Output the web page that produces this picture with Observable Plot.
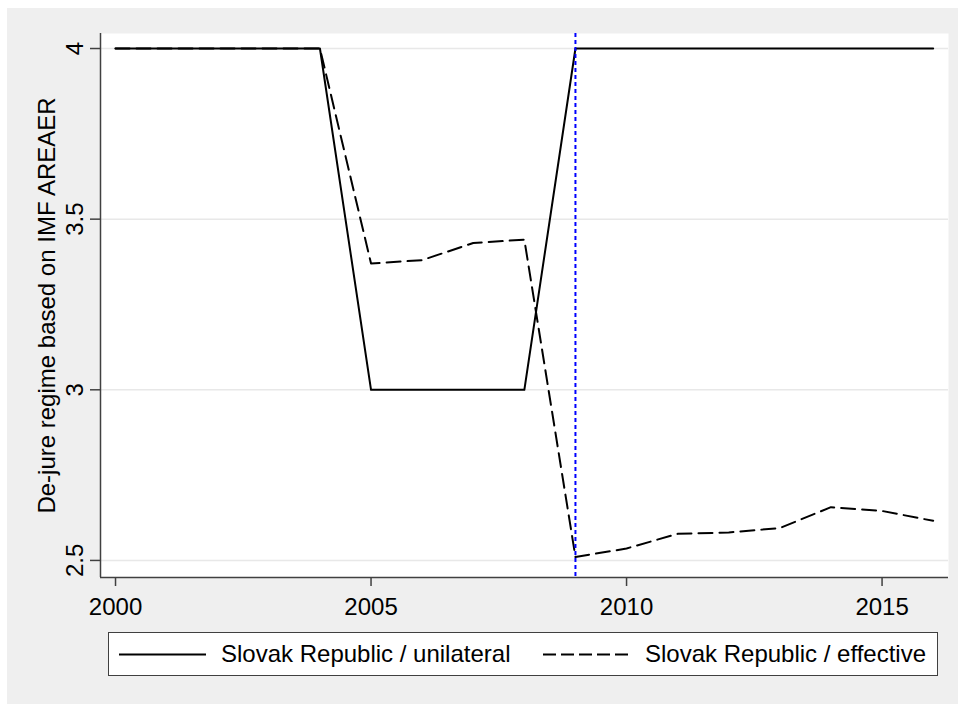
<!DOCTYPE html>
<html>
<head>
<meta charset="utf-8">
<script src="https://cdn.jsdelivr.net/npm/d3@7"></script>
<script src="https://cdn.jsdelivr.net/npm/@observablehq/plot@0.6"></script>
<style>
  html, body { margin: 0; padding: 0; background: #ffffff; }
  body { width: 958px; height: 704px; position: relative; overflow: hidden; font-family: "Liberation Sans", Arial, sans-serif; }
  #bg { position: absolute; left: 7px; top: 8px; width: 951px; height: 696px; background: #efefef; }
  #chart { position: absolute; left: 0; top: 0; }
  #legend { position: absolute; left: 108px; top: 632px; width: 828px; height: 42px; background: #ffffff; border: 1.5px solid #404040; }
  #legend svg { position: absolute; left: 0; top: 0; }
  #legend span { position: absolute; top: 8px; font-size: 24px; color: #000; white-space: nowrap; line-height: 26px; }
</style>
</head>
<body>
<div id="bg"></div>
<div id="chart"></div>
<div id="legend"></div>
<script>
// ---- data ----
const years = [2000, 2001, 2002, 2003, 2004, 2005, 2006, 2007, 2008, 2009, 2010, 2011, 2012, 2013, 2014, 2015, 2016];
const unilateral = [4, 4, 4, 4, 4, 3, 3, 3, 3, 4, 4, 4, 4, 4, 4, 4, 4];
const effective = [4, 4, 4, 4, 4, 3.37, 3.38, 3.43, 3.44, 2.51, 2.535, 2.578, 2.582, 2.595, 2.656, 2.645, 2.616];
const seriesNames = ["Slovak Republic / unilateral", "Slovak Republic / effective"];
const markerYear = [2009];
const xTicks = [2000, 2005, 2010, 2015];
const yTicks = [2.5, 3, 3.5, 4];
const yTitle = "De-jure regime based on IMF AREAER";

// ---- layout ----
const xDomain = [1999.706, 2016.30];
const yDomain = [2.450, 4.044];

const rows = [];
years.forEach((yr, i) => {
  rows.push({year: yr, value: unilateral[i], series: seriesNames[0]});
  rows.push({year: yr, value: effective[i], series: seriesNames[1]});
});

const FONT = "Liberation Sans, Arial, sans-serif";

const plot = Plot.plot({
  width: 958,
  height: 630,
  marginLeft: 100,
  marginRight: 10,
  marginTop: 33,
  marginBottom: 53,
  style: {background: "transparent", fontFamily: FONT, fontSize: "24px", color: "#000"},
  x: {domain: xDomain},
  y: {domain: yDomain},
  marks: [
    Plot.frame({fill: "white", stroke: "none"}),
    Plot.ruleY(yTicks, {stroke: "#e8e8e8", strokeWidth: 1.5}),
    Plot.ruleX([xDomain[0]], {stroke: "#404040", strokeWidth: 1.5}),
    Plot.ruleY([yDomain[0]], {stroke: "#404040", strokeWidth: 1.5}),
    Plot.axisY({
      ticks: yTicks, tickSize: 10, tickPadding: 8, tickRotate: -90,
      tickFormat: d => String(d), stroke: "#404040", strokeWidth: 1.5,
      label: yTitle, labelAnchor: "center", labelOffset: 63, labelArrow: "none",
      fontSize: 24
    }),
    Plot.axisX({
      ticks: xTicks, tickSize: 9, tickPadding: 11, tickFormat: d => String(d),
      stroke: "#404040", strokeWidth: 1.5, label: null, fontSize: 24
    }),
    Plot.line(rows.filter(d => d.series === seriesNames[0]), {x: "year", y: "value", stroke: "#000", strokeWidth: 2}),
    Plot.line(rows.filter(d => d.series === seriesNames[1]), {x: "year", y: "value", stroke: "#000", strokeWidth: 2, strokeDasharray: "14,7"}),
    Plot.ruleX(markerYear, {stroke: "#0000ff", strokeWidth: 2, strokeDasharray: "4,3"})
  ]
});
document.getElementById("chart").appendChild(plot);

// ---- legend ----
const legend = document.getElementById("legend");
legend.innerHTML = `
<svg width="828" height="42">
  <line x1="10" x2="97" y1="21.5" y2="21.5" stroke="#000" stroke-width="2"/>
  <line x1="434" x2="521" y1="21.5" y2="21.5" stroke="#000" stroke-width="2" stroke-dasharray="13,5"/>
</svg>
<span style="left:112px">${seriesNames[0]}</span>
<span style="left:536px">${seriesNames[1]}</span>`;
</script>
</body>
</html>
